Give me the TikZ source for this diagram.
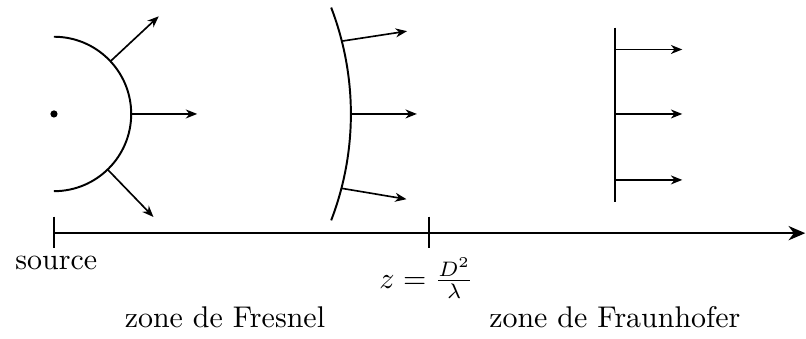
\documentclass[tikz,border=0pt]{standalone}
\usetikzlibrary{arrows.meta}

\begin{document}
\begin{tikzpicture}[
    x=0.88cm, y=0.88cm,
    wave/.style={line width=0.65pt},
    ray/.style={line width=0.55pt, -{Stealth[length=3.8pt, width=3pt, inset=1.2pt]}},
    axisline/.style={line width=0.55pt, -{Stealth[length=5.6pt, width=4.8pt, inset=1.8pt]}},
    tick/.style={line width=0.55pt},
    lab/.style={inner sep=0pt},
]
\useasboundingbox (-0.72,-2.99) rectangle (10.03,1.52);

% ---- source and spherical wave ----
\node[circle, fill=black, inner sep=0pt, minimum size=2.4pt] (src) at (0,0) {};
\draw[wave] (90:1.03) arc[start angle=90, end angle=-90, radius=1.03];
\foreach \a/\n in {43/1,0/2,-46/3} {
    \coordinate (s\n) at (\a:1.03);
    \draw[ray] (s\n) -- ++(\a:0.88);
}

% ---- Fresnel zone: curved front ----
\draw[wave] (21:3.96) arc[start angle=21, end angle=-21, radius=3.96];
\coordinate (fa) at (14.2:3.96);
\coordinate (fb) at (0:3.96);
\coordinate (fc) at (-14.5:3.96);
\draw[ray] (fa) -- ++(8.7:0.88);
\draw[ray] (fb) -- ++(0:0.88);
\draw[ray] (fc) -- ++(-9.5:0.88);

% ---- Fraunhofer zone: plane front ----
\draw[wave] (7.48,1.15) -- (7.48,-1.17);
\foreach \y/\n in {0.86/1,0/2,-0.88/3} {
    \coordinate (p\n) at (7.48,\y);
    \draw[ray] (p\n) -- ++(0.9,0);
}

% ---- axis ----
\coordinate (o) at (0,-1.59);
\coordinate (zl) at (5,-1.59);
\coordinate (end) at (10.02,-1.59);
\draw[axisline] (o) -- (end);
\draw[tick] (0,-1.37) -- (0,-1.79);
\draw[tick] (5,-1.37) -- (5,-1.79);

\node[lab, anchor=base] (srclab) at (0.03,-2.07) {source};
\node[lab] (zlab) at (4.97,-2.19) {$z=\frac{D^2}{\lambda}$};
\node[lab, anchor=base] (fresnel) at (2.28,-2.85) {zone de Fresnel};
\node[lab, anchor=base] (fraun) at (7.48,-2.85) {zone de Fraunhofer};
\end{tikzpicture}
\end{document}
